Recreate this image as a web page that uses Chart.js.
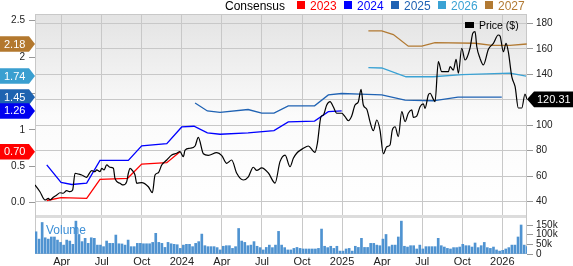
<!DOCTYPE html>
<html><head><meta charset="utf-8">
<script src="https://cdn.jsdelivr.net/npm/chart.js@4/dist/chart.umd.min.js"></script>
<style>html,body{margin:0;padding:0;background:#fff;overflow:hidden}#wrap{position:relative;width:573px;height:266px}</style>
</head><body><div id="wrap"><canvas id="c" width="573" height="266"></canvas></div>
<script>
// ---- data (x positions in months since Jan 2023; 0 = Jan 1 2023) ----
const seriesNames = ['2023', '2024', '2025', '2026', '2027'];
const seriesColors = ['#ff0000', '#0000ff', '#1f62b3', '#3aa2d4', '#b27a33'];
const badgeColors = ['#ff0000', '#0000f0', '#1e63b0', '#3a9fd0', '#b3782e'];

const x2023 = [1.88, 2.95, 4.87, 5.87, 7.94, 8.99, 10.87, 11.86];
const y2023 = [0.03, 0.07, 0.06, 0.32, 0.335, 0.53, 0.55, 0.70];

const x2024 = [1.88, 2.95, 3.75, 4.87, 5.87, 7.99, 8.99, 10.87, 11.99, 12.91, 13.91, 14.86, 16.96, 18.9, 19.97, 21.94, 22.97, 23.97];
const y2024 = [0.52, 0.28, 0.25, 0.27, 0.58, 0.58, 0.78, 0.81, 1.04, 1.05, 0.96, 0.94, 0.96, 0.99, 1.11, 1.12, 1.25, 1.26];

const x2025 = [12.99, 13.91, 14.86, 16.96, 17.98, 18.9, 19.97, 21.94, 22.97, 23.97, 25.34, 26.97, 28.72, 30.81, 32.68, 35.96];
const y2025 = [1.37, 1.26, 1.24, 1.28, 1.23, 1.23, 1.33, 1.33, 1.48, 1.50, 1.49, 1.48, 1.41, 1.40, 1.45, 1.45];

const x2026 = [25.97, 26.97, 28.79, 30.81, 32.99, 36.58, 37.78];
const y2026 = [1.855, 1.85, 1.73, 1.73, 1.76, 1.78, 1.74];

const x2027 = [25.97, 26.97, 27.84, 28.96, 29.97, 30.96, 33.96, 35.23, 36.58, 37.83];
const y2027 = [2.36, 2.36, 2.31, 2.15, 2.15, 2.20, 2.19, 2.16, 2.16, 2.18];

const priceX = [1.00,1.37,1.75,2.00,2.12,2.37,2.63,2.87,3.12,3.37,3.62,3.82,4.00,4.24,4.50,4.87,4.99,5.25,5.49,5.62,5.87,6.00,6.17,6.37,6.62,6.87,6.99,7.37,7.61,7.87,7.99,8.12,8.36,8.49,8.62,8.99,9.49,9.79,9.99,10.24,10.49,10.87,11.24,11.61,11.86,12.11,12.24,12.61,12.99,13.23,13.61,13.98,14.61,14.99,15.36,15.73,16.11,16.60,16.98,17.35,17.61,17.98,18.48,18.98,19.35,19.73,20.10,20.35,20.60,21.10,21.47,21.85,21.97,22.15,22.42,22.60,22.85,23.10,23.34,23.60,23.97,24.22,24.47,24.72,24.97,25.22,25.42,25.59,25.85,26.09,26.34,26.60,26.84,27.09,27.34,27.59,27.76,27.97,28.21,28.47,28.72,28.96,29.22,29.34,29.59,29.84,30.09,30.21,30.46,30.59,30.84,30.96,31.21,31.46,31.96,32.09,32.33,32.54,32.71,32.96,33.21,33.58,33.79,33.96,34.09,34.33,34.58,34.96,35.33,35.70,35.83,36.08,36.28,36.45,36.71,36.96,37.20,37.46,37.70,37.85];
const priceY = [53.1,47.8,41.3,42.6,41.3,43.4,45.2,47.0,46.6,48.6,47.8,49.2,62.3,61.7,60.9,59.1,60.9,64.3,63.5,64.9,63.5,66.2,64.9,68.8,67.0,66.2,58.3,54.4,53.1,55.7,62.3,66.2,63.5,60.9,54.4,55.0,51.7,47.0,60.9,62.7,68.8,72.7,76.6,78.0,79.2,75.3,80.5,81.9,83.7,90.5,77.6,76.3,78.5,76.2,70.1,72.7,62.3,57.0,59.5,67.0,64.5,66.5,62.5,54.6,71.4,76.6,67.4,74.0,78.0,81.9,83.7,79.5,78.7,85.8,106.7,108.0,115.9,118.5,114.5,109.4,109.4,106.7,103.5,107.2,115.9,118.5,128.2,115.9,112.5,102.8,95.7,104.1,96.2,77.6,83.1,84.5,96.2,98.8,91.0,110.6,102.8,109.4,112.0,106.2,107.2,114.5,116.7,113.3,123.7,125.1,120.3,118.5,149.9,142.0,142.0,146.0,143.3,151.7,140.8,160.4,151.2,160.4,172.2,173.4,161.6,152.5,147.3,159.6,164.3,170.8,170.0,157.7,164.3,157.7,138.1,130.2,113.5,113.5,124.5,120.31];

// weekly volume (thousands), first week ~ Feb 2023
const volFirstWeek = 1.075;        // month position of first weekly bar
const weekInMonths = 7 / 30.44;
const volume = [115,77,163,84,77,88,88,72,60,46,
72,67,50,170,101,64,81,55,84,81,
46,46,38,67,55,55,98,53,52,46,
72,38,38,55,55,53,53,53,60,107,
60,55,34,60,53,50,48,29,46,50,
50,38,55,64,103,43,38,38,38,33,
21,40,43,43,29,38,132,67,60,43,
46,64,40,33,21,34,46,33,46,117,
46,33,21,21,29,34,29,26,26,26,
26,26,29,129,40,33,40,29,40,15,
15,26,29,15,40,34,81,34,34,55,
55,46,43,77,101,38,46,46,88,170,
40,36,43,43,26,46,26,38,38,38,
38,81,43,36,29,26,33,33,36,50,
43,43,36,57,33,43,60,33,29,36,
21,15,19,26,33,46,46,88,150,46,
38];

const quarterTicks = [3, 6, 9, 12, 15, 18, 21, 24, 27, 30, 33, 36];
const quarterLabels = ['Apr', 'Jul', 'Oct', '2024', 'Apr', 'Jul', 'Oct', '2025', 'Apr', 'Jul', 'Oct', '2026'];
const priceTicks = [40, 60, 80, 100, 120, 140, 160, 180];
const epsTicks = [0, 0.5, 1, 1.5, 2, 2.5];
const epsTickLabels = ['0.0', '0.5', '1', '', '2', '2.5'];
const volTicks = [0, 50, 100, 150];
const volTickLabels = ['0', '50k', '100k', '150k'];

// ---- chart ----
Chart.defaults.font.family = "'Liberation Sans', Arial, sans-serif";
const FONT = "'Liberation Sans', Arial, sans-serif";

const epsX = [x2023, x2024, x2025, x2026, x2027];
const epsY = [y2023, y2024, y2025, y2026, y2027];

const datasets = [];
datasets.push({
  type: 'line', label: 'Price ($)', yAxisID: 'yPrice', xAxisID: 'x',
  data: priceX.map((x, i) => ({x, y: priceY[i]})),
  borderColor: '#000', borderWidth: 1.2, pointRadius: 0, cubicInterpolationMode: 'monotone'
});
for (let s = 0; s < seriesNames.length; s++) {
  datasets.push({
    type: 'line', label: seriesNames[s], yAxisID: 'yEps', xAxisID: 'x',
    data: epsX[s].map((x, i) => ({x, y: epsY[s][i]})),
    borderColor: seriesColors[s], borderWidth: 1.3, pointRadius: 0, tension: 0
  });
}
datasets.push({
  type: 'bar', label: 'Volume', yAxisID: 'yVol', xAxisID: 'x',
  data: volume.map((v, i) => ({x: volFirstWeek + i * weekInMonths, y: v})),
  backgroundColor: '#4f93d1', borderWidth: 0, barThickness: 2
});

function badgeLeft(ctx, y, color, text) {
  const h = 7.8;
  ctx.beginPath();
  ctx.moveTo(0, y - h); ctx.lineTo(29, y - h); ctx.lineTo(35, y);
  ctx.lineTo(29, y + h); ctx.lineTo(0, y + h); ctx.closePath();
  ctx.fillStyle = color; ctx.fill();
  ctx.fillStyle = '#fff'; ctx.font = '11px ' + FONT;
  ctx.textAlign = 'left'; ctx.textBaseline = 'middle';
  ctx.fillText(text, 4, y + 0.5);
}

const deco = {
  id: 'deco',
  beforeDraw(chart) {
    const {ctx, chartArea: a, scales} = chart;
    const yP = scales.yPrice;
    ctx.save();
    const g = ctx.createLinearGradient(0, yP.top, 0, yP.bottom);
    g.addColorStop(0, '#e3e3e3');
    g.addColorStop(0.5, '#fbfbfb');
    g.addColorStop(1, '#ffffff');
    ctx.fillStyle = g;
    ctx.fillRect(a.left, yP.top, a.right - a.left, yP.bottom - yP.top);
    ctx.restore();
  },
  beforeDatasetsDraw(chart) {
    const {ctx, chartArea: a, scales} = chart;
    const yb = scales.yVol.top;
    ctx.save();
    ctx.fillStyle = '#dcdcdc';
    ctx.fillRect(a.left, yb - 2, a.right - a.left, 3);
    ctx.strokeStyle = '#c8c8c8'; ctx.lineWidth = 1;
    ctx.strokeRect(a.left + 0.5, a.top + 0.5, a.right - a.left - 1, a.bottom - a.top - 1);
    ctx.restore();
  },
  afterDraw(chart) {
    const {ctx, chartArea: a, scales} = chart;
    ctx.save();
    // Volume label
    ctx.font = '12px ' + FONT; ctx.fillStyle = '#3d8fd6';
    ctx.textAlign = 'left'; ctx.textBaseline = 'alphabetic';
    ctx.fillText('Volume', 46, 233.5);
    // left badges (draw from last series to first)
    for (let s = seriesNames.length - 1; s >= 0; s--) {
      const ys = epsY[s];
      const v = ys[ys.length - 1];
      badgeLeft(ctx, scales.yEps.getPixelForValue(v), badgeColors[s], v.toFixed(2));
    }
    // price badge
    const last = priceY[priceY.length - 1];
    const py = scales.yPrice.getPixelForValue(last);
    ctx.beginPath();
    ctx.moveTo(a.right, py); ctx.lineTo(a.right + 7, py - 7.8); ctx.lineTo(573, py - 7.8);
    ctx.lineTo(573, py + 7.8); ctx.lineTo(a.right + 7, py + 7.8); ctx.closePath();
    ctx.fillStyle = '#000'; ctx.fill();
    ctx.fillStyle = '#fff'; ctx.font = '11px ' + FONT; ctx.textBaseline = 'middle';
    ctx.fillText(last.toFixed(2), 537, py + 0.5);
    // legend
    ctx.font = '12px ' + FONT; ctx.textBaseline = 'alphabetic';
    ctx.fillStyle = '#000';
    ctx.fillText('Consensus', 225, 9.5);
    let lx = 297;
    for (let s = 0; s < seriesNames.length; s++) {
      ctx.fillStyle = seriesColors[s];
      ctx.fillRect(lx, 1, 8, 8);
      ctx.fillText(seriesNames[s], lx + 13, 9.5);
      lx += 47;
    }
    // price legend
    ctx.fillStyle = '#000';
    ctx.fillRect(465, 22, 9, 6);
    ctx.font = '10.5px ' + FONT;
    ctx.fillText('Price ($)', 479, 28.5);
    ctx.restore();
  }
};

new Chart(document.getElementById('c'), {
  type: 'line',
  data: {datasets},
  plugins: [deco],
  options: {
    responsive: false, animation: false, devicePixelRatio: 1,
    layout: {padding: {top: 14, left: 0, right: 0, bottom: 0}},
    plugins: {legend: {display: false}, tooltip: {enabled: false}},
    scales: {
      x: {
        type: 'linear', position: 'bottom', min: 1.0, max: 37.85, offset: false,
        afterBuildTicks: s => { s.ticks = quarterTicks.map(v => ({value: v})); },
        afterFit: s => { s.height = 12; },
        ticks: {autoSkip: false, maxRotation: 0, padding: 1, color: '#222', font: {size: 11},
          callback: (v, i) => quarterLabels[i]},
        grid: {color: '#c8c8c8', drawTicks: false, offset: false},
        border: {display: false}
      },
      yEps: {
        type: 'linear', position: 'left', min: -0.705, max: 2.592,
        afterBuildTicks: s => { s.ticks = epsTicks.map(v => ({value: v})); },
        afterFit: s => { s.width = 35; },
        ticks: {autoSkip: false, color: '#222', font: {size: 10}, padding: 4, callback: (v, i) => epsTickLabels[i]},
        grid: {drawOnChartArea: false, tickLength: 6, tickColor: '#999'},
        border: {display: false}
      },
      yPrice: {
        type: 'linear', position: 'right', stack: 'r', stackWeight: 203, min: 27.96, max: 187.3,
        afterBuildTicks: s => { s.ticks = priceTicks.map(v => ({value: v})); },
        afterFit: s => { s.width = 46; },
        ticks: {autoSkip: false, color: '#222', font: {size: 10}, padding: 3},
        grid: {color: '#c8c8c8', tickLength: 6, tickColor: '#999'},
        border: {display: false}
      },
      yVol: {
        type: 'linear', position: 'right', stack: 'r', stackWeight: 37, min: 0, max: 191.4,
        afterBuildTicks: s => { s.ticks = volTicks.map(v => ({value: v})); },
        afterFit: s => { s.width = 46; },
        ticks: {autoSkip: false, color: '#222', font: {size: 10}, padding: 3, callback: (v, i) => volTickLabels[i]},
        grid: {drawOnChartArea: false, tickLength: 6, tickColor: '#999'},
        border: {display: false}
      }
    }
  }
});
</script>
</body></html>
